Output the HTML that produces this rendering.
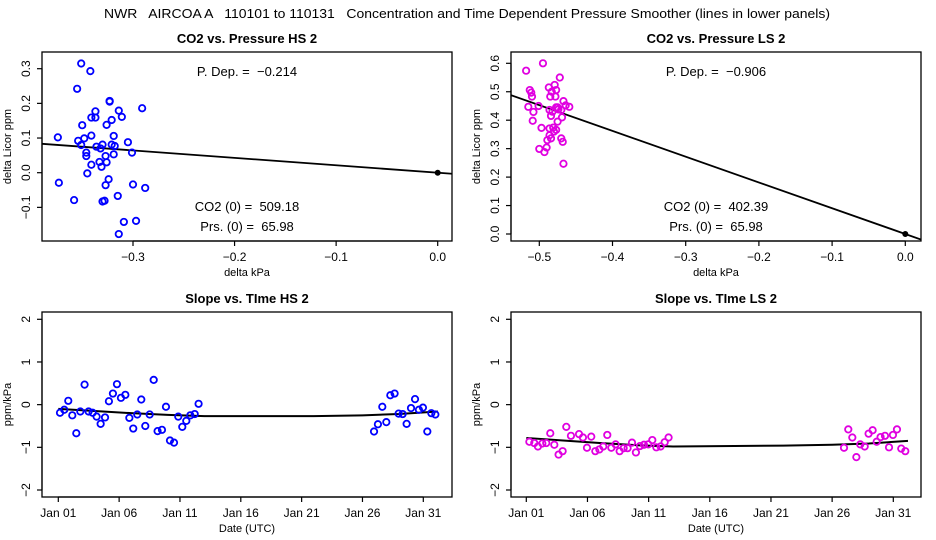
<!DOCTYPE html>
<html><head><meta charset="utf-8">
<style>
html,body{margin:0;padding:0;background:#fff;}
svg{display:block;font-family:"Liberation Sans",Arial,sans-serif;}
text{white-space:pre;}
</style></head>
<body>
<svg id="chart" width="936" height="540" viewBox="0 0 936 540" xmlns="http://www.w3.org/2000/svg" xml:space="preserve">
<text x="467" y="18" font-size="13" text-anchor="middle" textLength="726" lengthAdjust="spacingAndGlyphs" xml:space="preserve">NWR   AIRCOA A   110101 to 110131   Concentration and Time Dependent Pressure Smoother (lines in lower panels)</text>
</svg>
<script>
// ---- Panel 1 data: CO2 vs Pressure HS 2
const hsPress = [-0.374,-0.373,-0.358,-0.355,-0.354,-0.351,-0.350,-0.351,-0.348,-0.346,-0.346,-0.345,-0.342,-0.341,-0.341,-0.341,-0.337,-0.337,-0.336,-0.333,-0.332,-0.331,-0.330,-0.330,-0.328,-0.327,-0.327,-0.326,-0.326,-0.324,-0.323,-0.323,-0.321,-0.321,-0.319,-0.319,-0.318,-0.315,-0.314,-0.314,-0.311,-0.309,-0.305,-0.301,-0.300,-0.297,-0.291,-0.288];
const hsCO2 = [0.102,-0.029,-0.079,0.242,0.092,0.315,0.137,0.080,0.099,0.058,0.048,-0.002,0.293,0.159,0.107,0.023,0.177,0.159,0.075,0.031,0.070,0.017,0.081,-0.083,-0.081,0.048,-0.036,0.138,0.030,-0.019,0.207,0.205,0.152,0.081,0.106,0.053,0.077,-0.067,0.179,-0.177,0.161,-0.142,0.088,0.058,-0.034,-0.139,0.186,-0.044];
const hsSlope = -0.214;
const hsXTicks = [-0.3,-0.2,-0.1,0.0];
const hsXLabels = ["\u22120.3","\u22120.2","\u22120.1","0.0"];
const hsYTicks = [-0.1,0,0.1,0.2,0.3];
const hsYLabels = ["\u22120.1","0.0","0.1","0.2","0.3"];
// ---- Panel 2 data: CO2 vs Pressure LS 2
const lsPress = [-0.518,-0.495,-0.472,-0.513,-0.511,-0.510,-0.515,-0.501,-0.508,-0.509,-0.497,-0.500,-0.493,-0.490,-0.487,-0.485,-0.483,-0.479,-0.477,-0.478,-0.486,-0.484,-0.482,-0.477,-0.475,-0.474,-0.470,-0.486,-0.481,-0.484,-0.489,-0.486,-0.480,-0.477,-0.475,-0.469,-0.467,-0.464,-0.459,-0.470,-0.468,-0.467];
const lsCO2 = [0.574,0.600,0.550,0.506,0.497,0.483,0.447,0.450,0.429,0.398,0.373,0.299,0.288,0.304,0.515,0.483,0.500,0.524,0.506,0.483,0.436,0.415,0.430,0.445,0.445,0.438,0.436,0.371,0.374,0.336,0.330,0.347,0.360,0.366,0.395,0.410,0.467,0.452,0.447,0.336,0.324,0.247];
const lsSlope = -0.906;
const lsXTicks = [-0.5,-0.4,-0.3,-0.2,-0.1,0.0];
const lsXLabels = ["\u22120.5","\u22120.4","\u22120.3","\u22120.2","\u22120.1","0.0"];
const lsYTicks = [0,0.1,0.2,0.3,0.4,0.5,0.6];
const lsYLabels = ["0.0","0.1","0.2","0.3","0.4","0.5","0.6"];
// ---- Panel 3 data: Slope vs Time HS 2 (day offset from Jan 01)
const hsDays = [0.14,0.49,0.82,1.15,1.48,1.81,2.16,2.49,2.82,3.15,3.48,3.84,4.16,4.49,4.82,5.15,5.51,5.84,6.16,6.49,6.82,7.15,7.51,7.84,8.16,8.52,8.85,9.18,9.51,9.86,10.19,10.52,10.85,11.21,11.53,25.95,26.27,26.63,26.96,27.29,27.64,27.97,28.30,28.63,28.99,29.32,29.64,29.97,30.33,30.66,30.99];
const hsSlopes = [-0.19,-0.12,0.09,-0.25,-0.67,-0.16,0.47,-0.16,-0.19,-0.28,-0.45,-0.30,0.08,0.26,0.48,0.16,0.23,-0.31,-0.56,-0.23,0.12,-0.50,-0.23,0.58,-0.62,-0.59,-0.05,-0.84,-0.89,-0.28,-0.52,-0.38,-0.25,-0.22,0.02,-0.63,-0.46,-0.05,-0.41,0.22,0.26,-0.21,-0.22,-0.45,-0.08,0.13,-0.12,-0.07,-0.63,-0.20,-0.23];
const hsSmoothDays = [0,3,6,9,12,17,21,25,28,31.2];
const hsSmoothVals = [-0.10,-0.15,-0.20,-0.24,-0.27,-0.27,-0.27,-0.25,-0.22,-0.16];
// ---- Panel 4 data: Slope vs Time LS 2
const lsDays = [0.25,0.65,0.95,1.31,1.63,1.96,2.29,2.64,2.97,3.27,3.65,4.31,4.63,4.96,5.31,5.64,5.97,6.29,6.62,6.95,7.30,7.63,7.96,8.28,8.64,8.96,9.29,9.62,9.97,10.30,10.63,10.98,11.31,11.63,25.97,26.32,26.65,26.98,27.30,27.66,27.98,28.31,28.64,28.96,29.32,29.65,29.97,30.30,30.65,30.98];
const lsSlopes = [-0.87,-0.90,-0.98,-0.91,-0.90,-0.67,-0.94,-1.17,-1.09,-0.52,-0.73,-0.69,-0.77,-1.01,-0.75,-1.09,-1.05,-0.98,-0.71,-1.01,-0.93,-1.09,-1.02,-1.02,-0.89,-1.12,-0.97,-0.94,-0.93,-0.83,-1.00,-0.98,-0.88,-0.77,-1.01,-0.58,-0.77,-1.23,-0.93,-0.98,-0.68,-0.60,-0.87,-0.76,-0.73,-1.00,-0.71,-0.58,-1.03,-1.09];
const lsSmoothDays = [0,3,6,9,12,17,21,25,28,31.2];
const lsSmoothVals = [-0.78,-0.84,-0.90,-0.95,-0.98,-0.97,-0.96,-0.94,-0.91,-0.85];
const dayTicks = [0,5,10,15,20,25,30];
const dayLabels = ["Jan 01","Jan 06","Jan 11","Jan 16","Jan 21","Jan 26","Jan 31"];
const slopeTicks = [-2,-1,0,1,2];
const slopeLabels = ["\u22122","\u22121","0","1","2"];

const NS="http://www.w3.org/2000/svg";
const svg=document.getElementById('chart');
function mk(tag,attrs,parent){const e=document.createElementNS(NS,tag);for(const k in attrs)e.setAttribute(k,attrs[k]);(parent||svg).appendChild(e);return e;}
function lin(d0,d1,p0,p1){return v=>p0+(v-d0)*(p1-p0)/(d1-d0);}

function panel(o){
  const g=mk('g',{});
  
  
  const sx=lin(o.xd[0],o.xd[1],o.xp[0],o.xp[1]);
  const sy=lin(o.yd[0],o.yd[1],o.yp[0],o.yp[1]);
  const t=mk('text',{x:(o.box[0]+o.box[2])/2,y:o.box[1]-9,'font-size':13,'font-weight':'bold','text-anchor':'middle'},g);
  t.textContent=o.title;
  
  
  const fr=mk('rect',{x:o.box[0],y:o.box[1],width:o.box[2]-o.box[0],height:o.box[3]-o.box[1],fill:'none',stroke:'#000','stroke-width':1.3},g);
  
  
  const xa=mk('g',{},g);
  
  
  const yb=o.box[3];
  mk('line',{x1:sx(o.xt[0]),x2:sx(o.xt[o.xt.length-1]),y1:yb,y2:yb,stroke:'#000','stroke-width':1.2},xa);
  o.xt.forEach((v,i)=>{
    mk('line',{x1:sx(v),x2:sx(v),y1:yb,y2:yb+5,stroke:'#000','stroke-width':1.2},xa);
    const l=mk('text',{x:sx(v),y:yb+20,'font-size':12,'text-anchor':'middle'},xa);
    l.textContent=o.xl[i];
    
    
  });
  const xt=mk('text',{x:(o.box[0]+o.box[2])/2,y:yb+35,'font-size':11,'text-anchor':'middle'},xa);
  xt.textContent=o.xtitle;
  
  
  const ya=mk('g',{},g);
  
  
  const xb=o.box[0];
  mk('line',{x1:xb,x2:xb,y1:sy(o.yt[0]),y2:sy(o.yt[o.yt.length-1]),stroke:'#000','stroke-width':1.2},ya);
  o.yt.forEach((v,i)=>{
    mk('line',{x1:xb-5,x2:xb,y1:sy(v),y2:sy(v),stroke:'#000','stroke-width':1.2},ya);
    const l=mk('text',{x:xb-12,y:sy(v),'font-size':12,'text-anchor':'middle',transform:`rotate(-90 ${xb-12} ${sy(v)})`},ya);
    l.textContent=o.yl[i];
    
    
  });
  const yc=(o.box[1]+o.box[3])/2, ytx=xb-31;
  const yt=mk('text',{x:ytx,y:yc,'font-size':11,'text-anchor':'middle',transform:`rotate(-90 ${ytx} ${yc})`},ya);
  yt.textContent=o.ytitle;
  
  
  const cid='c'+o.name;
  const cp=mk('clipPath',{id:cid},g);
  mk('rect',{x:o.box[0],y:o.box[1],width:o.box[2]-o.box[0],height:o.box[3]-o.box[1]},cp);
  const pg=mk('g',{'clip-path':`url(#${cid})`},g);
  if(o.slope!==undefined){
    const ln=mk('line',{x1:sx(o.xd2[0]),y1:sy(o.slope*o.xd2[0]),x2:sx(o.xd2[1]),y2:sy(o.slope*o.xd2[1]),stroke:'#000','stroke-width':1.8},pg);
    
    
  }
  if(o.sdays){
    const pts=o.sdays.map((d,i)=>sx(d)+','+sy(o.svals[i])).join(' ');
    const pl=mk('polyline',{points:pts,fill:'none',stroke:'#000','stroke-width':2},pg);
    
    
  }
  o.xs.forEach((v,i)=>{
    const c=mk('circle',{cx:sx(v),cy:sy(o.ys[i]),r:3.2,fill:'none',stroke:o.color,'stroke-width':1.8},pg);
    
    
  });
  if(o.slope!==undefined){
    const c=mk('circle',{cx:sx(0),cy:sy(0),r:2.5,fill:'#000',stroke:'#000','stroke-width':1},pg);
    
    
  }
  if(o.notes){
    o.notes.forEach(n=>{
      const tx=mk('text',{x:n[0],y:n[1],'font-size':13,'text-anchor':'middle'},g);
      tx.textContent=n[2];
      
      
    });
  }
}

panel({name:'panel-co2-pressure-hs',title:'CO2 vs. Pressure HS 2',box:[42,52,452,241],
  xd:[-0.3,0],xp:[133,437.7],yd:[0,0.3],yp:[172.7,68.7],xd2:[-0.5,0.1],
  xt:hsXTicks,xl:hsXLabels,yt:hsYTicks,yl:hsYLabels,xtitle:'delta kPa',ytitle:'delta Licor ppm',
  xs:hsPress,ys:hsCO2,color:'#0000ff',slope:hsSlope,
  notes:[[247,76,'P. Dep. =  \u22120.214'],[247,211,'CO2 (0) =  509.18'],[247,231,'Prs. (0) =  65.98']]});
panel({name:'panel-co2-pressure-ls',title:'CO2 vs. Pressure LS 2',box:[511,52,921,241],
  xd:[-0.5,0],xp:[539.3,905.3],yd:[0,0.6],yp:[234,63.3],xd2:[-0.7,0.1],
  xt:lsXTicks,xl:lsXLabels,yt:lsYTicks,yl:lsYLabels,xtitle:'delta kPa',ytitle:'delta Licor ppm',
  xs:lsPress,ys:lsCO2,color:'#e000e0',slope:lsSlope,
  notes:[[716,76,'P. Dep. =  \u22120.906'],[716,211,'CO2 (0) =  402.39'],[716,231,'Prs. (0) =  65.98']]});
panel({name:'panel-slope-time-hs',title:'Slope vs. TIme HS 2',box:[42,312,452,497],
  xd:[0,30],xp:[58.3,423.3],yd:[-2,2],yp:[490,319.3],
  xt:dayTicks,xl:dayLabels,yt:slopeTicks,yl:slopeLabels,xtitle:'Date (UTC)',ytitle:'ppm/kPa',
  xs:hsDays,ys:hsSlopes,color:'#0000ff',sdays:hsSmoothDays,svals:hsSmoothVals});
panel({name:'panel-slope-time-ls',title:'Slope vs. TIme LS 2',box:[511,312,921,497],
  xd:[0,30],xp:[526.3,893.3],yd:[-2,2],yp:[490,319.3],
  xt:dayTicks,xl:dayLabels,yt:slopeTicks,yl:slopeLabels,xtitle:'Date (UTC)',ytitle:'ppm/kPa',
  xs:lsDays,ys:lsSlopes,color:'#e000e0',sdays:lsSmoothDays,svals:lsSmoothVals});
</script>
</body></html>
